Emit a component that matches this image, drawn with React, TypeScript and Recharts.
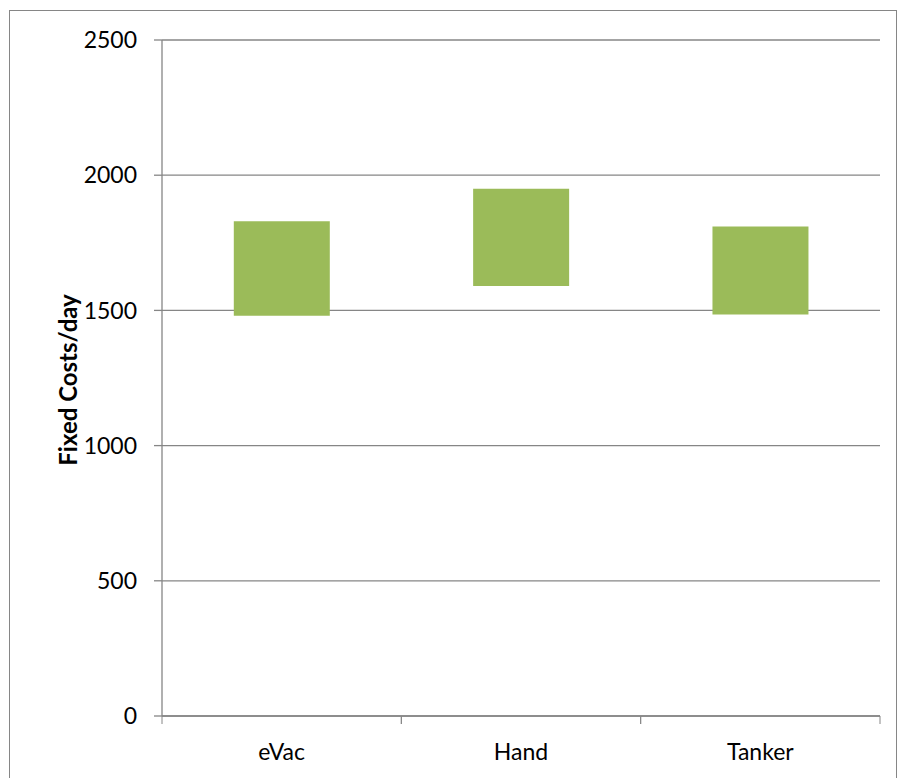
import { BarChart, Bar, XAxis, YAxis, CartesianGrid, Label } from "recharts";

const categories = ["eVac", "Hand", "Tanker"];
const lowCosts = [1480, 1590, 1485];
const highCosts = [1830, 1950, 1810];
const yTicks = [0, 500, 1000, 1500, 2000, 2500];

const data = categories.map((name, i) => ({
  name,
  range: [lowCosts[i], highCosts[i]],
}));

const FONT = "Lato, 'Open Sans', sans-serif";
const AXIS_GREY = "#868686";

// category ticks sit between the bands, like Excel's default
function CategoryTick(props: any) {
  const { x, y, payload } = props;
  const half = payload?.offset ?? (880 - 162) / categories.length / 2;
  return (
    <g>
      <line x1={x - half} y1={y} x2={x - half} y2={y + 8} stroke={AXIS_GREY} />
      <line x1={x + half} y1={y} x2={x + half} y2={y + 8} stroke={AXIS_GREY} />
      <text
        x={x}
        y={y + 44}
        textAnchor="middle"
        fontFamily={FONT}
        fontSize={23}
        fill="#000"
      >
        {payload.value}
      </text>
    </g>
  );
}

function AxisTitle(props: any) {
  const vb = props.viewBox || { y: 40, height: 676 };
  const cy = vb.y + vb.height / 2 + 2;
  return (
    <text
      x={77}
      y={cy}
      transform={`rotate(-90 77 ${cy})`}
      textAnchor="middle"
      fontFamily={FONT}
      fontWeight="bold"
      fontSize={24}
      fill="#000"
    >
      Fixed Costs/day
    </text>
  );
}

export default function App() {
  return (
    <div
      style={{
        position: "absolute",
        left: 0,
        top: 0,
        width: 899,
        height: 778,
        overflow: "hidden",
        background: "#fff",
      }}
    >
      <div
        style={{
          position: "absolute",
          left: 9,
          top: 10,
          width: 886,
          height: 800,
          border: `1.5px solid ${AXIS_GREY}`,
        }}
      />
      <BarChart
        width={899}
        height={778}
        data={data}
        barCategoryGap="30%"
        margin={{ top: 40, right: 19, left: 0, bottom: 0 }}
        style={{ position: "absolute", left: 0, top: 0 }}
      >
        <CartesianGrid vertical={false} stroke={AXIS_GREY} strokeWidth={1.3} />
        <XAxis
          dataKey="name"
          height={62}
          axisLine={{ stroke: AXIS_GREY, strokeWidth: 1.3 }}
          tickLine={false}
          tickSize={0}
          tickMargin={0}
          tick={<CategoryTick />}
          interval={0}
        />
        <YAxis
          width={162}
          domain={[0, 2500]}
          ticks={yTicks}
          interval={0}
          axisLine={{ stroke: AXIS_GREY, strokeWidth: 1.3 }}
          tickLine={{ stroke: AXIS_GREY, strokeWidth: 1.3 }}
          tickSize={8}
          tickMargin={17}
          tick={{ fontFamily: FONT, fontSize: 23, fill: "#000" }}
        >
          <Label content={<AxisTitle />} />
        </YAxis>
        <Bar dataKey="range" fill="#9BBB59" isAnimationActive={false} />
      </BarChart>
    </div>
  );
}
